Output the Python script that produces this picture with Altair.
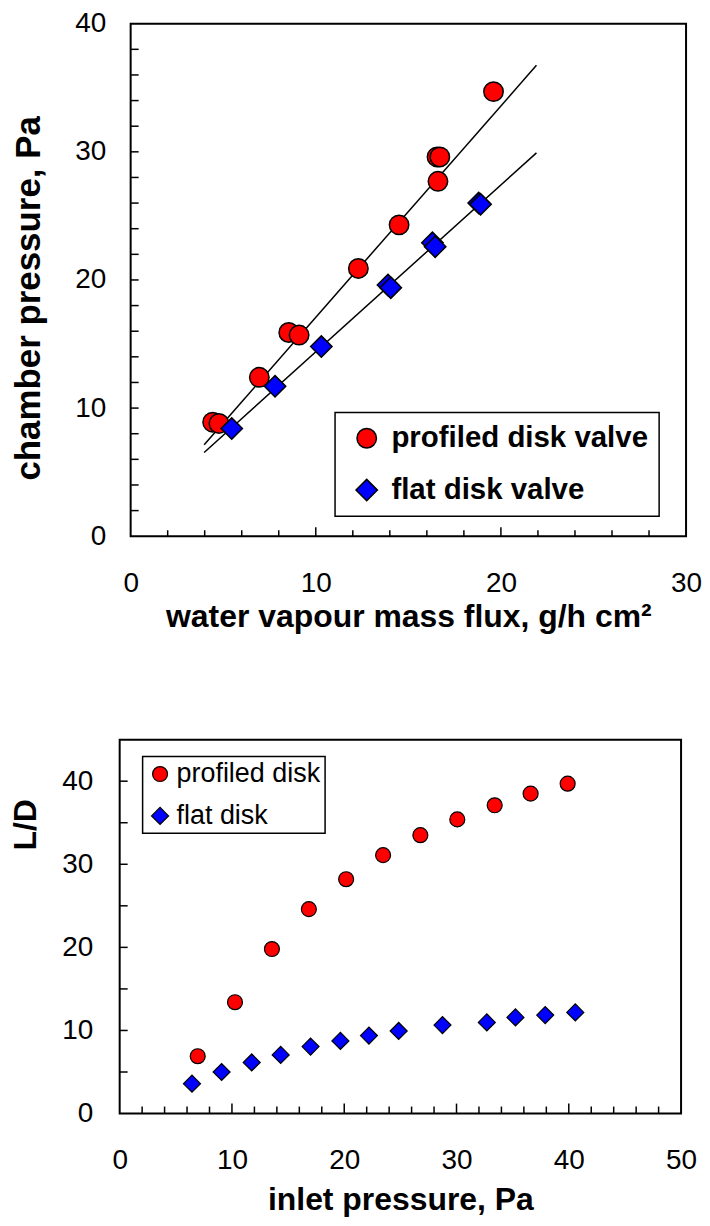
import altair as alt
import pandas as pd

FONT = "Liberation Sans"

# ---------------- top chart data ----------------
top_series = ["profiled disk valve", "flat disk valve"]
prof_flux = [4.43, 4.77, 6.95, 8.54, 9.10, 12.30, 14.50, 16.55, 16.70, 16.60, 19.60]
prof_press = [8.9, 8.8, 12.4, 15.9, 15.7, 20.9, 24.3, 29.6, 29.6, 27.7, 34.7]
flat_flux = [5.46, 7.80, 10.30, 13.90, 14.05, 16.30, 16.45, 18.80, 18.90]
flat_press = [8.4, 11.7, 14.8, 19.6, 19.4, 22.9, 22.6, 26.0, 25.9]
fit_flux = [3.97, 21.92]
fit_prof_press = [7.14, 36.75]
fit_flat_press = [6.53, 29.92]
top_x_labels = [0, 10, 20, 30]
top_y_labels = [0, 10, 20, 30, 40]
top_x_minor = [2, 4, 6, 8, 12, 14, 16, 18, 22, 24, 26, 28]
top_x_major = [10, 20]
top_y_minor = [2, 4, 6, 8, 10, 12, 14, 16, 18, 20, 22, 24, 26, 28, 30, 32, 34, 36, 38]

# ---------------- bottom chart data ----------------
bot_series = ["profiled disk", "flat disk"]
ld_prof_p = [6.95, 10.27, 13.56, 16.85, 20.17, 23.46, 26.78, 30.07, 33.40, 36.60, 39.90]
ld_prof = [6.9, 13.4, 19.8, 24.6, 28.2, 31.1, 33.5, 35.4, 37.1, 38.5, 39.7]
ld_flat_p = [6.44, 9.08, 11.76, 14.34, 17.00, 19.66, 22.20, 24.85, 28.75, 32.70, 35.25, 37.90, 40.58]
ld_flat = [3.6, 5.0, 6.15, 7.06, 8.06, 8.74, 9.38, 9.94, 10.65, 10.97, 11.57, 11.85, 12.17]
bot_x_labels = [0, 10, 20, 30, 40, 50]
bot_y_labels = [0, 10, 20, 30, 40]
bot_x_minor = [2, 4, 6, 8, 12, 14, 16, 18, 22, 24, 26, 28, 32, 34, 36, 38, 42, 44, 46, 48]
bot_x_major = [10, 20, 30, 40]
bot_y_minor = [5, 10, 15, 20, 25, 30, 35, 40]

colors = ["#FF0000", "#0000FF"]
shapes = ["circle", "diamond"]
top_sizes = [380, 460]
bot_sizes = [225, 290]

top_pts = pd.DataFrame({
    "flux": prof_flux + flat_flux,
    "press": prof_press + flat_press,
    "series": [top_series[0]] * len(prof_flux) + [top_series[1]] * len(flat_flux),
})
fit_df = pd.DataFrame({
    "flux": fit_flux + fit_flux,
    "press": fit_prof_press + fit_flat_press,
    "fit": ["profiled"] * 2 + ["flat"] * 2,
})
bot_pts = pd.DataFrame({
    "pin": ld_prof_p + ld_flat_p,
    "ld": ld_prof + ld_flat,
    "series": [bot_series[0]] * len(ld_prof_p) + [bot_series[1]] * len(ld_flat_p),
})
one_row = pd.DataFrame({"k": [0]})


def axis(values, title, label_pad, title_size, title_x, title_y, baseline, angle=None):
    kw = dict(
        values=values, title=title, grid=False, domain=False, ticks=False,
        labelFont=FONT, labelFontSize=28, labelColor="black", labelBaseline="middle",
        labelPadding=label_pad, labelFlush=False, labelOverlap=False,
        titleFont=FONT, titleFontSize=title_size, titleFontWeight="bold", titleColor="black",
        titleBaseline=baseline, titleAlign="center", titleX=title_x, titleY=title_y,
    )
    if angle is not None:
        kw["titleAngle"] = angle
    return alt.Axis(**kw)


TICK = dict(color="black", strokeWidth=1.5)
FRAME = dict(fill="transparent", stroke="black", strokeWidth=2)

# ---------------- top chart ----------------
# the top plot sits 11 px to the right of the bottom plot
OFF = 11
TW, TH = 568, 514
tx = alt.X("flux:Q", scale=alt.Scale(domain=[0, 30], nice=False, zero=False, range=[OFF, TW]),
           axis=axis(top_x_labels, "water vapour mass flux, g/h cm\u00b2", 47, 32,
                     (OFF + TW) / 2, 90.5, "alphabetic"))
ty = alt.Y("press:Q", scale=alt.Scale(domain=[0, 40], nice=False, zero=False),
           axis=axis(top_y_labels, "chamber pressure, Pa", 25 - OFF, 35,
                     -102.4 + OFF, 275, "middle", angle=270))

top_frame = alt.Chart(one_row).mark_rect(**FRAME).encode(
    x=alt.value(OFF), x2=alt.value(TW), y=alt.value(0), y2=alt.value(TH))

top_xt_minor = alt.Chart(pd.DataFrame({"flux": top_x_minor})).mark_rule(**TICK).encode(
    x=tx, y=alt.value(TH), y2=alt.value(TH - 6))
top_xt_major = alt.Chart(pd.DataFrame({"flux": top_x_major})).mark_rule(**TICK).encode(
    x=tx, y=alt.value(TH), y2=alt.value(TH - 9))
top_yt = alt.Chart(pd.DataFrame({"press": top_y_minor})).mark_rule(**TICK).encode(
    y=ty, x=alt.value(OFF), x2=alt.value(OFF + 8))

top_lines = alt.Chart(fit_df).mark_line(color="black", strokeWidth=1.5).encode(
    x=tx, y=ty, detail="fit:N")

top_points = alt.Chart(top_pts).mark_point(
    filled=True, stroke="black", strokeWidth=1.5, opacity=1
).encode(
    x=tx, y=ty,
    color=alt.Color("series:N", scale=alt.Scale(domain=top_series, range=colors),
                    legend=alt.Legend(orient="none", legendX=205 + OFF, legendY=390, title=None,
                                      labelFont=FONT, labelFontSize=29.5, labelFontWeight="bold",
                                      labelColor="black", labelLimit=0, padding=11, rowPadding=21,
                                      symbolOffset=6, labelOffset=10, symbolSize=380,
                                      symbolStrokeColor="black", symbolStrokeWidth=1.5,
                                      strokeColor="black", fillColor="white")),
    shape=alt.Shape("series:N", scale=alt.Scale(domain=top_series, range=shapes)),
    size=alt.Size("series:N", scale=alt.Scale(domain=top_series, range=top_sizes), legend=None),
)

top = alt.layer(top_frame, top_xt_minor, top_xt_major, top_yt, top_lines, top_points).properties(
    width=TW, height=TH)

# ---------------- bottom chart ----------------
BW, BH = 563, 375
bx = alt.X("pin:Q", scale=alt.Scale(domain=[0, 50], nice=False, zero=False),
           axis=axis(bot_x_labels, "inlet pressure, Pa", 47, 32, BW / 2, 96, "alphabetic"))
by = alt.Y("ld:Q", scale=alt.Scale(domain=[0, 45], nice=False, zero=False),
           axis=axis(bot_y_labels, "L/D", 27, 32, -94, 85, "middle", angle=270))

bot_frame = alt.Chart(one_row).mark_rect(**FRAME).encode(
    x=alt.value(0), x2=alt.value(BW), y=alt.value(0), y2=alt.value(BH))

bot_xt_minor = alt.Chart(pd.DataFrame({"pin": bot_x_minor})).mark_rule(**TICK).encode(
    x=bx, y=alt.value(BH), y2=alt.value(BH - 7))
bot_xt_major = alt.Chart(pd.DataFrame({"pin": bot_x_major})).mark_rule(**TICK).encode(
    x=bx, y=alt.value(BH), y2=alt.value(BH - 10))
bot_yt = alt.Chart(pd.DataFrame({"ld": bot_y_minor})).mark_rule(**TICK).encode(
    y=by, x=alt.value(0), x2=alt.value(8))

bot_points = alt.Chart(bot_pts).mark_point(
    filled=True, stroke="black", strokeWidth=1.2, opacity=1
).encode(
    x=bx, y=by,
    color=alt.Color("series:N", scale=alt.Scale(domain=bot_series, range=colors),
                    legend=alt.Legend(orient="none", legendX=23, legendY=17, title=None,
                                      labelFont=FONT, labelFontSize=27, labelColor="black",
                                      labelLimit=0, padding=4, rowPadding=14, symbolOffset=0,
                                      labelOffset=3, symbolSize=190,
                                      symbolStrokeColor="black", symbolStrokeWidth=1.2,
                                      strokeColor="black", fillColor="white")),
    shape=alt.Shape("series:N", scale=alt.Scale(domain=bot_series, range=shapes)),
    size=alt.Size("series:N", scale=alt.Scale(domain=bot_series, range=bot_sizes), legend=None),
)

bottom = alt.layer(bot_frame, bot_xt_minor, bot_xt_major, bot_yt, bot_points).properties(
    width=BW, height=BH)

chart = alt.vconcat(top, bottom, spacing=106).resolve_scale(
    color="independent", shape="independent", size="independent"
).properties(
    padding={"left": 2, "top": 0, "right": 0, "bottom": 0}
).configure_view(
    strokeWidth=0
).configure_legend(
    strokeWidth=1.5
)

chart.save("out.html", embed_options={"renderer": "svg", "actions": False})
